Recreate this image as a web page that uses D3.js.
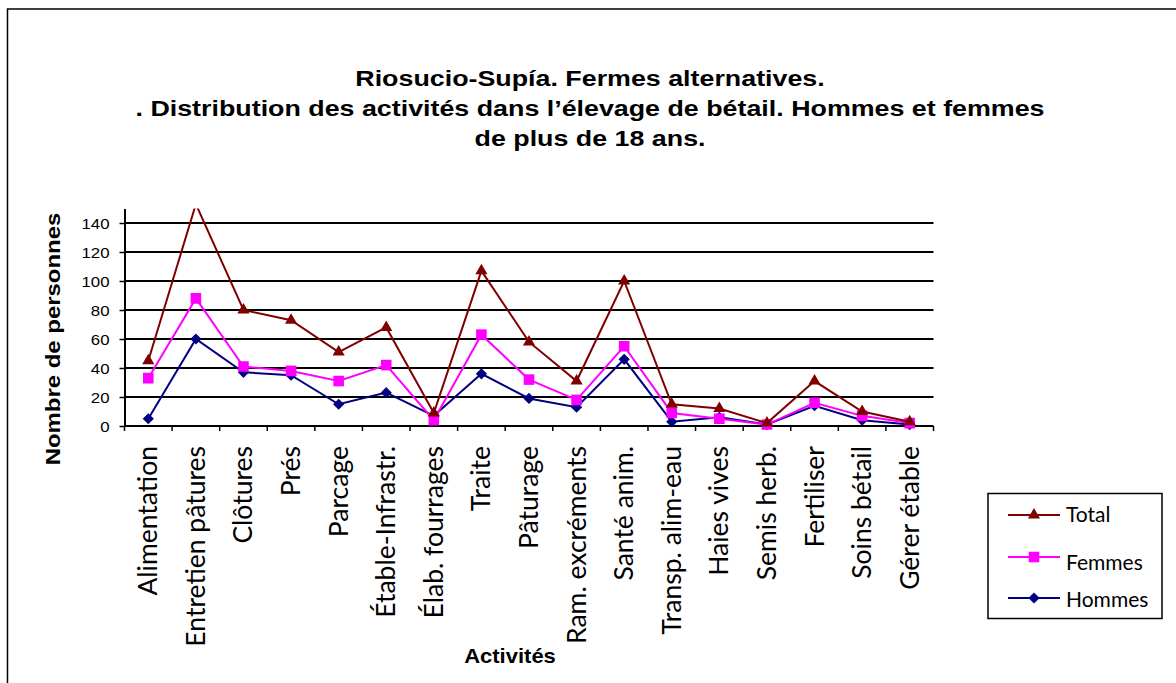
<!DOCTYPE html>
<html>
<head>
<meta charset="utf-8">
<script src="https://cdn.jsdelivr.net/npm/d3@7"></script>
<style>
  html, body { margin: 0; padding: 0; background: #ffffff; }
  svg { display: block; }
</style>
</head>
<body>
<svg id="chart" width="1176" height="683"></svg>
<script>
// Activities in livestock farming (Riosucio-Supía alternative farms)
const categories = [
  "Alimentation", "Entretien pâtures", "Clôtures", "Prés", "Parcage",
  "Étable-Infrastr.", "Élab. fourrages", "Traite", "Pâturage",
  "Ram. excréments", "Santé anim.", "Transp. alim-eau", "Haies vives",
  "Semis herb.", "Fertiliser", "Soins bétail", "Gérer étable"
];
const totalValues  = [45, 153, 80, 73, 51, 68, 9, 107, 58, 31, 100, 15, 12, 2, 31, 10, 3];
const femmesValues = [33, 88, 41, 38, 31, 42, 4, 63, 32, 18, 55, 9, 5, 1, 16, 7, 2];
const hommesValues = [5, 60, 37, 35, 15, 23, 7, 36, 19, 13, 46, 3, 6, 1, 14, 4, 1];
const yTicks = [0, 20, 40, 60, 80, 100, 120, 140];
const yMax = 150;

const titleLines = [
  "Riosucio-Supía. Fermes alternatives.",
  ". Distribution des activités dans l’élevage de bétail. Hommes et femmes",
  "de plus de 18 ans."
];

const series = [
  { name: "Hommes", values: hommesValues, color: "#000080", marker: "diamond" },
  { name: "Femmes", values: femmesValues, color: "#FF00FF", marker: "square" },
  { name: "Total",  values: totalValues,  color: "#800000", marker: "triangle" }
];

const arial = "'Liberation Sans', Arial, sans-serif";
const sans = "Lato, 'Open Sans', sans-serif";

const svg = d3.select("#chart");

// Outer chart frame
svg.append("rect")
  .attr("x", 7.5).attr("y", 9)
  .attr("width", 1200).attr("height", 700)
  .attr("fill", "#fff").attr("stroke", "#000").attr("stroke-width", 1.5);

// Scales
const x = d3.scaleBand().domain(categories).range([124.5, 933.5]).padding(0);
const y = d3.scaleLinear().domain([0, yMax]).range([426, 208.5]);
const cx = c => x(c) + x.bandwidth() / 2;

// Title
const title = svg.append("g");
titleLines.forEach((t, i) => {
  title.append("text")
    .attr("transform", `translate(590,${86 + i * 30}) scale(1.22,1)`)
    .attr("text-anchor", "middle")
    .attr("font-family", arial).attr("font-weight", "bold").attr("font-size", 22)
    .text(t);
});

// Horizontal gridlines
svg.append("g")
  .selectAll("line")
  .data(yTicks.filter(t => t > 0))
  .join("line")
  .attr("x1", x.range()[0]).attr("x2", x.range()[1])
  .attr("y1", d => y(d)).attr("y2", d => y(d))
  .attr("stroke", "#000").attr("stroke-width", 2);

// Y axis
const yAxis = svg.append("g")
  .attr("transform", `translate(${x.range()[0]},0)`)
  .call(d3.axisLeft(y).tickValues(yTicks).tickSize(5).tickSizeOuter(0).tickFormat(d3.format("d")));
yAxis.select(".domain").attr("stroke", "#000").attr("stroke-width", 2);
yAxis.selectAll(".tick line").attr("stroke", "#000").attr("stroke-width", 1.5);
yAxis.selectAll(".tick text")
  .attr("x", null).attr("dy", null)
  .attr("transform", "translate(-15,5) scale(1.2,1)")
  .attr("text-anchor", "end")
  .attr("font-family", arial).attr("font-size", 14).attr("fill", "#000");

// X axis: baseline and ticks at category boundaries
const xAxis = svg.append("g");
xAxis.append("line")
  .attr("x1", x.range()[0]).attr("x2", x.range()[1])
  .attr("y1", y(0)).attr("y2", y(0))
  .attr("stroke", "#000").attr("stroke-width", 2);
const bounds = categories.map(c => x(c)).concat([x.range()[1]]);
xAxis.selectAll("line.tick")
  .data(bounds)
  .join("line")
  .attr("class", "tick")
  .attr("x1", d => d).attr("x2", d => d)
  .attr("y1", y(0)).attr("y2", y(0) + 5)
  .attr("stroke", "#000").attr("stroke-width", 1.5);

const xFont = 26.5;
xAxis.selectAll("text.cat")
  .data(categories)
  .join("text")
  .attr("class", "cat")
  .attr("transform", d => `translate(${cx(d) + xFont * 0.34},446) rotate(-90)`)
  .attr("text-anchor", "end")
  .attr("font-family", sans).attr("font-size", xFont).attr("fill", "#000")
  .text(d => d);

// Axis titles
svg.append("text")
  .attr("transform", "translate(510,663) scale(1.1,1)")
  .attr("text-anchor", "middle")
  .attr("font-family", arial).attr("font-weight", "bold").attr("font-size", 20)
  .text("Activités");

svg.append("text")
  .attr("transform", "translate(60,339) rotate(-90) scale(1.14,1)")
  .attr("text-anchor", "middle")
  .attr("font-family", arial).attr("font-weight", "bold").attr("font-size", 21)
  .text("Nombre de personnes");

// Marker shapes
const diamond = {
  draw(ctx, size) {
    const r = Math.sqrt(size) * 0.62625;
    ctx.moveTo(0, -r); ctx.lineTo(r, 0); ctx.lineTo(0, r); ctx.lineTo(-r, 0); ctx.closePath();
  }
};
const markerPath = {
  triangle: d3.symbol(d3.symbolTriangle, 64)(),
  square: d3.symbol(d3.symbolSquare, 112)(),
  diamond: d3.symbol(diamond, 80)()
};

// Clip at the top of the plot area
svg.append("defs").append("clipPath").attr("id", "plotClip")
  .append("rect")
  .attr("x", x.range()[0] - 20).attr("y", y(yMax))
  .attr("width", x.range()[1] - x.range()[0] + 40)
  .attr("height", y(0) - y(yMax) + 20);

const plot = svg.append("g").attr("clip-path", "url(#plotClip)");
const line = d3.line().x((v, i) => cx(categories[i])).y(v => y(v));

series.forEach(s => {
  const g = plot.append("g");
  g.append("path")
    .attr("d", line(s.values))
    .attr("fill", "none").attr("stroke", s.color).attr("stroke-width", 2);
  g.selectAll("path.mk")
    .data(s.values)
    .join("path")
    .attr("class", "mk")
    .attr("d", markerPath[s.marker])
    .attr("transform", (v, i) => `translate(${cx(categories[i])},${y(v)})`)
    .attr("fill", s.color);
});

// Legend
const legend = svg.append("g");
legend.append("rect")
  .attr("x", 988).attr("y", 493.5).attr("width", 174).attr("height", 125)
  .attr("fill", "#fff").attr("stroke", "#000").attr("stroke-width", 1.5);
const legendItems = [
  { s: series[2], ly: 515, ty: 522 },
  { s: series[1], ly: 557, ty: 570 },
  { s: series[0], ly: 598, ty: 607 }
];
legendItems.forEach(it => {
  legend.append("line")
    .attr("x1", 1008).attr("x2", 1060).attr("y1", it.ly).attr("y2", it.ly)
    .attr("stroke", it.s.color).attr("stroke-width", 2);
  legend.append("path")
    .attr("d", markerPath[it.s.marker])
    .attr("transform", `translate(1034,${it.ly})`)
    .attr("fill", it.s.color);
  legend.append("text")
    .attr("x", 1066).attr("y", it.ty)
    .attr("font-family", sans).attr("font-size", 21).attr("fill", "#000")
    .text(it.s.name);
});
</script>
</body>
</html>
